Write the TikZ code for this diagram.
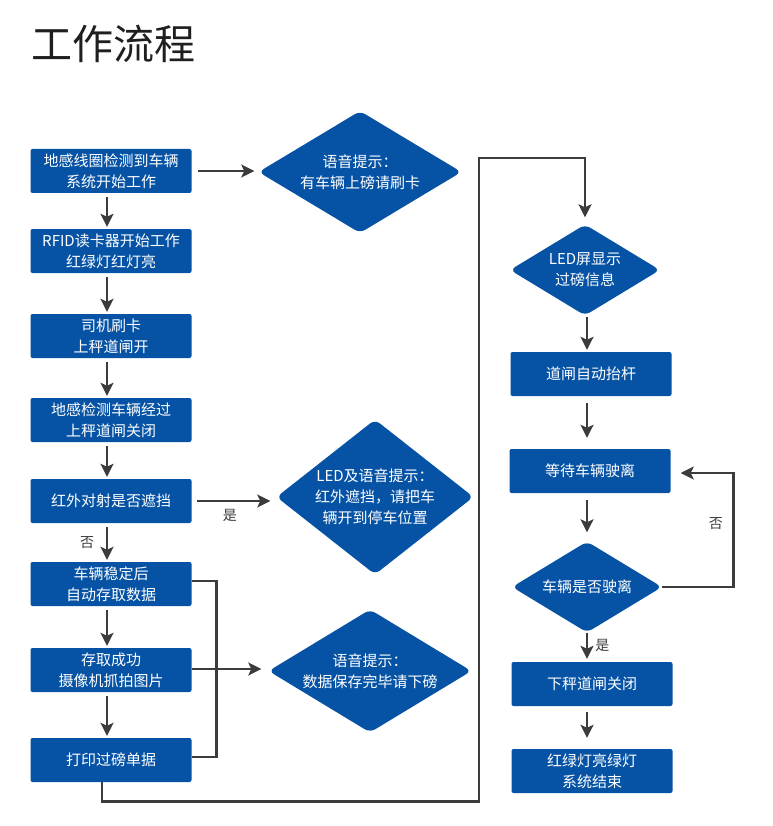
\documentclass[tikz,border=0pt]{standalone}
\usepackage{fontspec}
\setmainfont{Noto Sans CJK SC}
\usetikzlibrary{shapes.geometric}
\usetikzlibrary{arrows.meta}
\definecolor{flowblue}{RGB}{6,83,165}
\definecolor{flowgray}{RGB}{60,60,60}

\begin{document}
\begin{tikzpicture}[x=1pt,y=-1pt,
box_style/.style={fill=flowblue,text=white,rounded corners=2pt,minimum width=161pt,minimum height=44pt,align=center,inner sep=0pt,font=\fontsize{15}{21}\selectfont},
dia_style/.style={diamond,fill=flowblue,text=white,rounded corners=6pt,align=center,inner sep=0pt,font=\fontsize{15}{21}\selectfont},
line_style/.style={draw=flowgray,line width=2.8pt},
arrow_style/.style={line_style,-{Stealth[length=13pt,width=13pt,inset=3pt]}},
label_style/.style={text=flowgray,inner sep=0pt,font=\fontsize{14}{16}\selectfont}]

\useasboundingbox (0,0) rectangle (772,826);

\node[anchor=west,inner sep=0pt,text=black!88,font=\fontsize{41}{48}\selectfont] (title) at (31,44) {工作流程};

\foreach \n/\y/\t in {1/171/{地感线圈检测到车辆\\系统开始工作},2/251/{RFID读卡器开始工作\\红绿灯红灯亮},3/336/{司机刷卡\\上秤道闸开},4/420/{地感检测车辆经过\\上秤道闸关闭},5/501/{红外对射是否遮挡},6/584/{车辆稳定后\\自动存取数据},7/670/{存取成功\\摄像机抓拍图片},8/760/{打印过磅单据}}{
 \node[box_style] (b\n) at (111,\y) {\t};
}

\node[box_style] (r1) at (591,374) {道闸自动抬杆};
\node[box_style] (r2) at (590,471) {等待车辆驶离};
\node[box_style] (r3) at (592,684) {下秤道闸关闭};
\node[box_style] (r4) at (592,771) {红绿灯亮绿灯\\系统结束};

\node[dia_style,minimum width=203pt,minimum height=122pt,aspect=1.66] (d1) at (360,172) {语音提示：\\有车辆上磅请刷卡};
\node[dia_style,minimum width=197pt,minimum height=155pt,aspect=1.27] (d2) at (375,497) {LED及语音提示：\\红外遮挡，请把车\\辆开到停车位置};
\node[dia_style,minimum width=203pt,minimum height=123pt,aspect=1.66] (d3) at (370,671) {语音提示：\\数据保存完毕请下磅};
\node[dia_style,minimum width=150pt,minimum height=91pt,aspect=1.65] (d4) at (585,270) {LED屏显示\\过磅信息};
\node[dia_style,minimum width=150pt,minimum height=91pt,aspect=1.65] (d5) at (587,587) {车辆是否驶离};

\coordinate (turn) at (479,158);

\foreach \a/\b in {1/2,2/3,3/4,4/5,5/6,6/7,7/8}{
 \draw[arrow_style,shorten <=4pt,shorten >=2pt] ([xshift=-4pt]b\a.south) -- ([xshift=-4pt]b\b.north);
}

\draw[arrow_style,shorten <=6pt,shorten >=4pt] (b1.east) -- (b1.east -| d1.west);
\draw[arrow_style,shorten <=5pt,shorten >=6pt] (b5.east) -- (b5.east -| d2.west) node[label_style,pos=0.45,below=7pt] (yes1) {是};
\draw[line_style] ([yshift=3pt]b6.east) -- ++(25,0) |- ([yshift=3pt]b8.east);
\draw[arrow_style,shorten >=7pt] ([yshift=1pt]b7.east) -- ([yshift=1pt]b7.east -| d3.west);
\draw[arrow_style,shorten >=7pt] ([xshift=-9pt]b8.south) -- ++(0,19) -| (turn) -| (d4.north);

\draw[arrow_style,shorten <=1pt,shorten >=2pt] ([xshift=2pt]d4.south) -- ([xshift=2pt]d4.south |- r1.north);
\draw[arrow_style,shorten <=7pt,shorten >=11pt] ([xshift=-4pt]r1.south) -- ([xshift=-4pt]r1.south |- r2.north);
\draw[arrow_style,shorten <=7pt,shorten >=9pt] ([xshift=-3pt]r2.south) -- ([xshift=-3pt]r2.south |- d5.north);
\draw[arrow_style,shorten >=3pt] (d5.south) -- (d5.south |- r3.north) node[label_style,pos=0.45,right=7pt] (yes2) {是};
\draw[arrow_style,shorten <=6pt,shorten >=11pt] ([xshift=-5pt]r3.south) -- ([xshift=-5pt]r3.south |- r4.north);
\draw[arrow_style,shorten >=10pt] (d5.east) -- ++(71,0) |- ([yshift=-2pt]r2.east) node[label_style,pos=0.28,left=9pt] (no2) {否};

\node[label_style] (no1) at (87,543) {否};
\end{tikzpicture}
\end{document}
